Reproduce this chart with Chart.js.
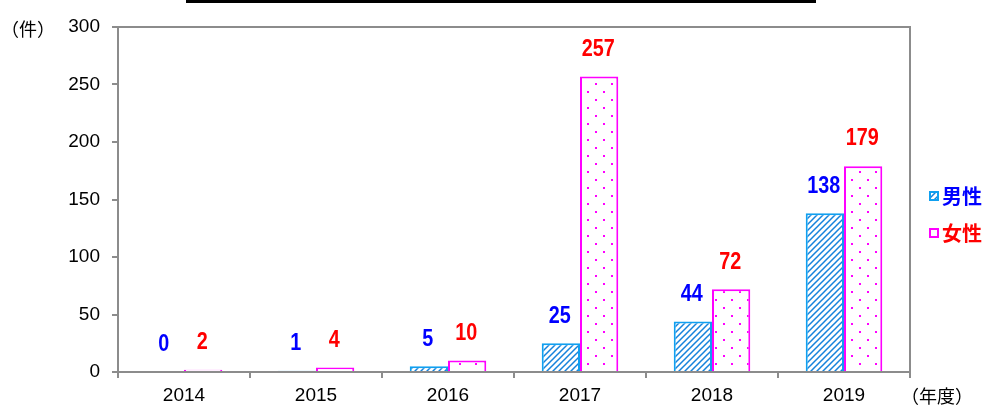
<!DOCTYPE html>
<html>
<head>
<meta charset="utf-8">
<script src="https://cdn.jsdelivr.net/npm/chart.js@4/dist/chart.umd.min.js"></script>
<style>
html,body{margin:0;padding:0;background:#fff;}
#wrap{position:relative;width:986px;height:405px;}
</style>
</head>
<body>
<div id="wrap"><canvas id="c" width="986" height="405"></canvas></div>
<script>
const categories = ['2014','2015','2016','2017','2018','2019'];
const maleValues = [0, 1, 5, 25, 44, 138];
const femaleValues = [2, 4, 10, 257, 72, 179];
const seriesNames = ['男性', '女性'];
const yTicks = [0, 50, 100, 150, 200, 250, 300];
const yUnit = '（件）';
const xUnit = '（年度）';

const SANS = "'Liberation Sans', Arial, sans-serif";
const JP = "'Noto Sans CJK JP', sans-serif";

function hatchPattern() {
  const s = 6, cv = document.createElement('canvas');
  cv.width = s; cv.height = s;
  const g = cv.getContext('2d');
  g.fillStyle = '#ffffff'; g.fillRect(0,0,s,s);
  g.strokeStyle = '#1582dc';
  g.lineWidth = 1.5;
  g.beginPath();
  g.moveTo(-1, s + 1); g.lineTo(s + 1, -1);
  g.moveTo(-1, 1); g.lineTo(1, -1);
  g.moveTo(s - 1, s + 1); g.lineTo(s + 1, s - 1);
  g.stroke();
  return g.createPattern(cv, 'repeat');
}
function dotPattern() {
  const s = 16, cv = document.createElement('canvas');
  cv.width = s; cv.height = s;
  const g = cv.getContext('2d');
  g.fillStyle = '#ffffff'; g.fillRect(0,0,s,s);
  g.fillStyle = '#ff00ff';
  g.fillRect(3, 3, 2, 2);
  g.fillRect(11, 11, 2, 2);
  return g.createPattern(cv, 'repeat');
}
const maleFill = hatchPattern();
const femaleFill = dotPattern();
const maleBorder = '#10a0f0';
const femaleBorder = '#ff00ff';
const maleLabel = '#0000ff';
const femaleLabel = '#ff0000';

const decor = {
  id: 'decor',
  afterDraw(chart) {
    const ctx = chart.ctx, a = chart.chartArea;
    ctx.save();
    // title bar
    ctx.fillStyle = '#000';
    ctx.fillRect(186, 0, 630, 3);
    // frame top and right
    ctx.strokeStyle = '#8c8c8c';
    ctx.lineWidth = 2;
    ctx.beginPath();
    ctx.moveTo(a.left, a.top);
    ctx.lineTo(a.right, a.top);
    ctx.lineTo(a.right, a.bottom);
    ctx.stroke();
    // axis unit labels
    ctx.fillStyle = '#000';
    ctx.font = "18px " + JP;
    ctx.textBaseline = 'middle';
    ctx.textAlign = 'left';
    ctx.fillText(yUnit, 1, 29);
    ctx.fillText(xUnit, 901, 396);
    // legend
    const items = [
      {name: seriesNames[0], fill: maleFill, border: maleBorder, color: maleLabel, y: 196},
      {name: seriesNames[1], fill: femaleFill, border: femaleBorder, color: femaleLabel, y: 233}
    ];
    items.forEach(it => {
      ctx.fillStyle = '#fff';
      ctx.fillRect(930, it.y - 4, 8, 8);
      ctx.fillStyle = it.fill;
      ctx.fillRect(930, it.y - 4, 8, 8);
      ctx.strokeStyle = it.border;
      ctx.lineWidth = 2;
      ctx.strokeRect(930, it.y - 4, 8, 8);
      ctx.fillStyle = it.color;
      ctx.font = "bold 20px " + JP;
      ctx.textAlign = 'left';
      ctx.fillText(it.name, 942, it.y);
    });
    ctx.restore();
  },
  afterDatasetsDraw(chart) {
    const ctx = chart.ctx;
    ctx.save();
    ctx.font = "bold 23px " + SANS;
    ctx.textAlign = 'center';
    ctx.textBaseline = 'middle';
    chart.data.datasets.forEach((ds, di) => {
      const meta = chart.getDatasetMeta(di);
      ctx.fillStyle = di === 0 ? maleLabel : femaleLabel;
      meta.data.forEach((el, i) => {
        const x = el.x - 1, y = el.y - 27;
        ctx.save();
        ctx.translate(x, y);
        ctx.scale(0.86, 1);
        ctx.fillText(String(ds.data[i]), 0, 0);
        ctx.restore();
      });
    });
    ctx.restore();
  }
};

new Chart(document.getElementById('c'), {
  type: 'bar',
  data: {
    labels: categories,
    datasets: [
      {label: seriesNames[0], data: maleValues, backgroundColor: maleFill, borderColor: maleBorder, borderWidth: 2, borderSkipped: 'bottom'},
      {label: seriesNames[1], data: femaleValues, backgroundColor: femaleFill, borderColor: femaleBorder, borderWidth: 2, borderSkipped: 'bottom'}
    ]
  },
  options: {
    responsive: false,
    animation: false,
    devicePixelRatio: 1,
    layout: {padding: {left: 0, right: 76, top: 27, bottom: 0}},
    plugins: {legend: {display: false}, tooltip: {enabled: false}, title: {display: false}},
    datasets: {bar: {categoryPercentage: 0.58, barPercentage: 1.0}},
    scales: {
      x: {
        grid: {display: true, offset: true, drawOnChartArea: false, drawTicks: true, tickLength: 6, color: '#8c8c8c', lineWidth: 2},
        border: {display: true, color: '#8c8c8c', width: 2},
        ticks: {color: '#000', font: {family: SANS, size: 19}, padding: 6, maxRotation: 0},
        afterFit(s) { s.height = 33; }
      },
      y: {
        min: 0, max: 300,
        afterBuildTicks(s) { s.ticks = yTicks.map(v => ({value: v})); },
        grid: {display: true, drawOnChartArea: false, drawTicks: true, tickLength: 6, color: '#8c8c8c', lineWidth: 2},
        border: {display: true, color: '#8c8c8c', width: 2},
        ticks: {color: '#000', font: {family: SANS, size: 19}, padding: 12},
        afterFit(s) { s.width = 118; }
      }
    }
  },
  plugins: [decor]
});
</script>
</body>
</html>
